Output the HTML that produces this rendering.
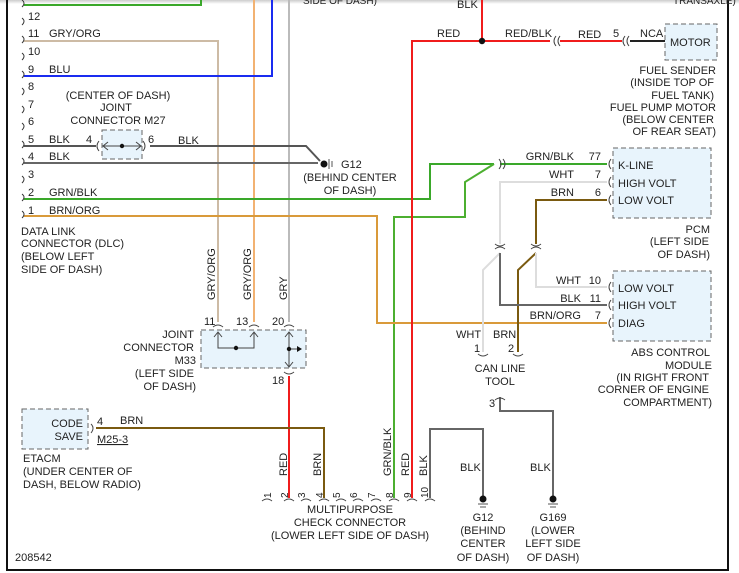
<!DOCTYPE html>
<html><head><meta charset="utf-8"><style>
html,body{margin:0;padding:0;background:#fff;}
svg{display:block;font-family:"Liberation Sans",sans-serif;font-size:11px;}
text{fill:#222;}
</style></head><body>
<svg width="739" height="573" viewBox="0 0 739 573" xmlns="http://www.w3.org/2000/svg">
<defs><linearGradient id="tg" x1="0" y1="0" x2="0" y2="1"><stop offset="0" stop-color="#ccc"/><stop offset="1" stop-color="#fff"/></linearGradient></defs>
<rect x="0" y="0" width="739" height="4" fill="url(#tg)"/>
<line x1="7" y1="0" x2="7" y2="571" stroke="#111" stroke-width="2"/>
<line x1="728" y1="0" x2="728" y2="571" stroke="#111" stroke-width="2"/>
<line x1="6" y1="570" x2="729" y2="570" stroke="#111" stroke-width="2"/>

<g fill="none" stroke-width="2">
<polyline points="24,5 201,5 201,0" stroke="#3aa82a"/>
<line x1="254" y1="0" x2="254" y2="322" stroke="#f2b272"/>
<line x1="289" y1="0" x2="289" y2="322" stroke="#bbb"/>
<polyline points="24,41 218,41 218,322" stroke="#cdbba5"/>
<polyline points="24,76 272,76 272,0" stroke="#1a2cf0"/>
<polyline points="24,146 96,146" stroke="#555"/>
<polyline points="150,146 306,146 320,161" stroke="#555"/>
<line x1="24" y1="163" x2="318" y2="163" stroke="#666"/>
<polyline points="24,199 430,199 430,164 494,164" stroke="#3aa82a"/>
<line x1="500" y1="164" x2="607" y2="164" stroke="#3aa82a"/>
<polyline points="494,164 465,182 465,217 394,217 394,498" stroke="#4caf30"/>
<polyline points="24,216 377,216 377,323 607,323" stroke="#d99a3a"/>
<polyline points="412,498 412,41 482,41 482,0" stroke="#f01c1c"/>
<line x1="482" y1="41" x2="550" y2="41" stroke="#f01c1c"/>
<line x1="560" y1="41" x2="622" y2="41" stroke="#f01c1c"/>
<line x1="630" y1="41" x2="665" y2="41" stroke="#222"/>
<polyline points="607,182 500,182 500,244" stroke="#ddd"/>
<polyline points="500,253 483,270 483,352" stroke="#ddd"/>
<polyline points="607,200 536,200 536,244" stroke="#7a5a10"/>
<polyline points="536,253 518,270 518,352" stroke="#7a5a10"/>
<polyline points="500,253 500,305 607,305" stroke="#666"/>
<polyline points="536,253 536,287 607,287" stroke="#ddd"/>
<polyline points="500,397 500,411 553,411 553,496" stroke="#666"/>
<polyline points="430,498 430,429 483,429 483,496" stroke="#666"/>
<line x1="289" y1="376" x2="289" y2="498" stroke="#f01c1c"/>
<polyline points="96,428 324,428 324,498" stroke="#7a5a10"/>
</g>

<g fill="none" stroke="#333" stroke-width="1">
<path d="M22,0 q4,3 0,7"/>
<path d="M22,18 q4,3 0,7"/><path d="M22,36 q4,3 0,7"/><path d="M22,53 q4,3 0,7"/><path d="M22,71 q4,3 0,7"/>
<path d="M22,88 q4,3 0,7"/><path d="M22,106 q4,3 0,7"/><path d="M22,123 q4,3 0,7"/><path d="M22,141 q4,3 0,7"/>
<path d="M22,158 q4,3 0,7"/><path d="M22,176 q4,3 0,7"/><path d="M22,194 q4,3 0,7"/><path d="M22,211 q4,3 0,7"/>
</g>
<g font-size="11">
<text x="28" y="20">12</text><text x="28" y="37">11</text><text x="49" y="37">GRY/ORG</text>
<text x="28" y="55">10</text><text x="28" y="73">9</text><text x="49" y="73">BLU</text>
<text x="28" y="90">8</text><text x="28" y="108">7</text><text x="28" y="125">6</text>
<text x="28" y="143">5</text><text x="49" y="143">BLK</text>
<text x="28" y="160">4</text><text x="49" y="160">BLK</text>
<text x="28" y="178">3</text><text x="28" y="196">2</text><text x="49" y="196">GRN/BLK</text>
<text x="28" y="214">1</text><text x="49" y="214">BRN/ORG</text>
<text x="21" y="235">DATA LINK</text><text x="21" y="247">CONNECTOR (DLC)</text>
<text x="21" y="260">(BELOW LEFT</text><text x="21" y="273">SIDE OF DASH)</text>
</g>

<rect x="102" y="130" width="40" height="29" fill="#e8f4fc" stroke="#666" stroke-dasharray="5,3"/>
<g fill="none" stroke="#444" stroke-width="1">
<path d="M99,141 q-4,5 0,10"/><path d="M143,141 q4,5 0,10"/>
<line x1="102" y1="146" x2="142" y2="146"/>
<polyline points="108,142 103,146 108,150"/><polyline points="136,142 141,146 136,150"/>
</g>
<circle cx="122" cy="146" r="2.2" fill="#111"/>
<g text-anchor="middle"><text x="118" y="99">(CENTER OF DASH)</text><text x="116" y="111">JOINT</text><text x="118" y="124">CONNECTOR M27</text></g>
<text x="86" y="143">4</text><text x="148" y="143">6</text><text x="178" y="144">BLK</text>

<circle cx="324" cy="164" r="3.5" fill="#111"/>
<line x1="329" y1="159" x2="329" y2="169" stroke="#555"/><line x1="332" y1="161" x2="332" y2="167" stroke="#555"/>
<text x="341" y="168">G12</text>
<g text-anchor="middle"><text x="350" y="181">(BEHIND CENTER</text><text x="350" y="194">OF DASH)</text></g>
<text x="303" y="4" font-size="10">SIDE OF DASH)</text>

<text x="457" y="8">BLK</text>
<circle cx="482" cy="41" r="3.2" fill="#111"/>
<text x="437" y="37">RED</text><text x="505" y="37">RED/BLK</text><text x="578" y="38">RED</text>
<text x="613" y="37">5</text><text x="640" y="37">NCA</text>
<g fill="none" stroke="#444"><path d="M556,36 q-4,5 0,10"/><path d="M560,36 q-4,5 0,10"/><path d="M625,36 q-4,5 0,10"/><path d="M629,36 q-4,5 0,10"/></g>
<rect x="665" y="24" width="52" height="36" fill="#e8f4fc" stroke="#666" stroke-dasharray="5,3"/>
<text x="670" y="46">MOTOR</text>
<text x="673" y="4" font-size="10">TRANSAXLE)</text>
<g text-anchor="end"><text x="716" y="74">FUEL SENDER</text><text x="714" y="86">(INSIDE TOP OF</text><text x="714" y="99">FUEL TANK)</text>
<text x="716" y="111">FUEL PUMP MOTOR</text><text x="714" y="123">(BELOW CENTER</text><text x="716" y="135">OF REAR SEAT)</text></g>

<rect x="613" y="148" width="98" height="70" fill="#e8f4fc" stroke="#666" stroke-dasharray="5,3"/>
<g fill="none" stroke="#444"><path d="M499,159 q4,5 0,10"/><path d="M503,159 q4,5 0,10"/>
<path d="M611,159 q-4,5 0,10"/><path d="M611,177 q-4,5 0,10"/><path d="M611,195 q-4,5 0,10"/>
<path d="M611,282 q-4,5 0,10"/><path d="M611,300 q-4,5 0,10"/><path d="M611,318 q-4,5 0,10"/></g>
<text x="618" y="169">K-LINE</text><text x="618" y="187">HIGH VOLT</text><text x="618" y="204">LOW VOLT</text>
<g text-anchor="end"><text x="574" y="160">GRN/BLK</text><text x="601" y="160">77</text>
<text x="574" y="178">WHT</text><text x="601" y="178">7</text>
<text x="574" y="196">BRN</text><text x="601" y="196">6</text>
<text x="710" y="233">PCM</text><text x="709" y="245">(LEFT SIDE</text><text x="710" y="258">OF DASH)</text></g>
<g fill="none" stroke="#444"><path d="M495,244 q5,4 10,0"/><path d="M495,249 q5,-4 10,0"/><path d="M531,244 q5,4 10,0"/><path d="M531,249 q5,-4 10,0"/></g>

<rect x="613" y="271" width="98" height="70" fill="#e8f4fc" stroke="#666" stroke-dasharray="5,3"/>
<text x="618" y="292">LOW VOLT</text><text x="618" y="309">HIGH VOLT</text><text x="618" y="327">DIAG</text>
<g text-anchor="end"><text x="581" y="284">WHT</text><text x="601" y="284">10</text>
<text x="581" y="302">BLK</text><text x="601" y="302">11</text>
<text x="581" y="319">BRN/ORG</text><text x="601" y="319">7</text>
<text x="710" y="356">ABS CONTROL</text><text x="712" y="369">MODULE</text><text x="709" y="381">(IN RIGHT FRONT</text>
<text x="709" y="393">CORNER OF ENGINE</text><text x="712" y="406">COMPARTMENT)</text></g>

<text x="456" y="338">WHT</text><text x="493" y="338">BRN</text>
<text x="474" y="352">1</text><text x="508" y="352">2</text>
<g fill="none" stroke="#444"><path d="M478,354 q5,4 10,0"/><path d="M513,354 q5,4 10,0"/><path d="M495,400 q5,-4 10,0"/></g>
<g text-anchor="middle"><text x="500" y="372">CAN LINE</text><text x="500" y="385">TOOL</text></g>
<text x="489" y="407">3</text>

<text x="460" y="471">BLK</text><text x="530" y="471">BLK</text>
<circle cx="483" cy="499" r="3.5" fill="#111"/><line x1="478" y1="504" x2="488" y2="504" stroke="#555"/><line x1="480" y1="507" x2="486" y2="507" stroke="#555"/>
<circle cx="553" cy="499" r="3.5" fill="#111"/><line x1="548" y1="504" x2="558" y2="504" stroke="#555"/><line x1="550" y1="507" x2="556" y2="507" stroke="#555"/>
<g text-anchor="middle"><text x="483" y="521">G12</text><text x="483" y="534">(BEHIND</text><text x="483" y="547">CENTER</text><text x="483" y="561">OF DASH)</text>
<text x="553" y="521">G169</text><text x="553" y="534">(LOWER</text><text x="553" y="547">LEFT SIDE</text><text x="553" y="561">OF DASH)</text></g>

<rect x="201" y="330" width="105" height="38" fill="#e8f4fc" stroke="#666" stroke-dasharray="5,3"/>
<g fill="none" stroke="#444" stroke-width="1">
<polyline points="218,333 218,348 254,348 254,333"/>
<polyline points="214,337 218,332 222,337"/><polyline points="250,337 254,332 258,337"/>
<line x1="289" y1="332" x2="289" y2="367"/>
<polyline points="285,337 289,332 293,337"/><polyline points="285,362 289,367 293,362"/>
<line x1="289" y1="349" x2="300" y2="349"/>
<path d="M213,327 q5,-4 10,0"/><path d="M249,327 q5,-4 10,0"/><path d="M284,327 q5,-4 10,0"/><path d="M284,372 q5,4 10,0"/>
</g>
<polygon points="297,346 302,349 297,352" fill="#111"/>
<circle cx="236" cy="348" r="2.2" fill="#111"/><circle cx="289" cy="349" r="2.2" fill="#111"/>
<text x="204" y="325">11</text><text x="236" y="325">13</text><text x="272" y="325">20</text><text x="272" y="384">18</text>
<g text-anchor="end"><text x="194" y="338">JOINT</text><text x="194" y="351">CONNECTOR</text><text x="196" y="364">M33</text><text x="194" y="377">(LEFT SIDE</text><text x="196" y="390">OF DASH)</text></g>
<g font-size="11">
<text transform="translate(215,300) rotate(-90)">GRY/ORG</text>
<text transform="translate(251,300) rotate(-90)">GRY/ORG</text>
<text transform="translate(287,300) rotate(-90)">GRY</text>
<text transform="translate(287,476) rotate(-90)">RED</text>
<text transform="translate(321,476) rotate(-90)">BRN</text>
<text transform="translate(391,476) rotate(-90)">GRN/BLK</text>
<text transform="translate(409,476) rotate(-90)">RED</text>
<text transform="translate(427,476) rotate(-90)">BLK</text>
</g>

<rect x="22" y="409" width="66" height="40" fill="#e8f4fc" stroke="#666" stroke-dasharray="5,3"/>
<g text-anchor="end"><text x="83" y="427">CODE</text><text x="83" y="440">SAVE</text></g>
<path d="M91,424 q4,4 0,9" fill="none" stroke="#444"/>
<text x="97" y="425">4</text><text x="120" y="424">BRN</text>
<text x="97" y="443" text-decoration="underline">M25-3</text>
<text x="23" y="462">ETACM</text><text x="23" y="475">(UNDER CENTER OF</text><text x="23" y="488">DASH, BELOW RADIO)</text>

<g fill="none" stroke="#444">
<path d="M262,501 q5,-4 10,0"/><path d="M284,501 q5,-4 10,0"/><path d="M301,501 q5,-4 10,0"/><path d="M319,501 q5,-4 10,0"/><path d="M336,501 q5,-4 10,0"/>
<path d="M353,501 q5,-4 10,0"/><path d="M371,501 q5,-4 10,0"/><path d="M389,501 q5,-4 10,0"/><path d="M407,501 q5,-4 10,0"/><path d="M425,501 q5,-4 10,0"/>
</g>
<g font-size="10">
<text transform="translate(271,498) rotate(-90)">1</text><text transform="translate(288,498) rotate(-90)">2</text>
<text transform="translate(305,498) rotate(-90)">3</text><text transform="translate(323,498) rotate(-90)">4</text>
<text transform="translate(340,498) rotate(-90)">5</text><text transform="translate(357,498) rotate(-90)">6</text>
<text transform="translate(375,498) rotate(-90)">7</text><text transform="translate(393,498) rotate(-90)">8</text>
<text transform="translate(411,498) rotate(-90)">9</text><text transform="translate(428,498) rotate(-90)">10</text>
</g>
<g text-anchor="middle"><text x="350" y="513">MULTIPURPOSE</text><text x="350" y="526">CHECK CONNECTOR</text><text x="350" y="539">(LOWER LEFT SIDE OF DASH)</text></g>
<text x="15" y="561">208542</text>
</svg>
</body></html>
